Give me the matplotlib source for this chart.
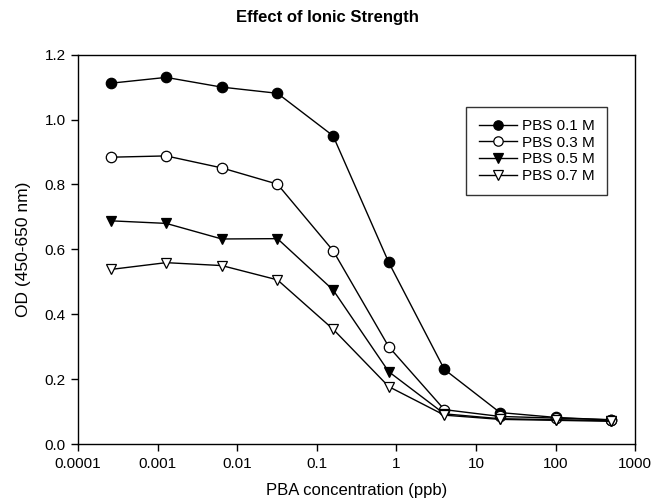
import matplotlib
matplotlib.use('Agg')
import numpy as np
from matplotlib import pyplot as plt
from matplotlib.ticker import FixedLocator, FixedFormatter, NullLocator

plt.rcParams['font.family'] = ['Liberation Sans', 'DejaVu Sans']

# PBA concentration (ppb), 5-fold dilutions
conc = [0.000256, 0.00128, 0.0064, 0.032, 0.16, 0.8, 4, 20, 100, 500]

pbs_01 = [1.112, 1.130, 1.100, 1.081, 0.950, 0.560, 0.230, 0.097, 0.082, 0.074]
pbs_03 = [0.884, 0.888, 0.851, 0.801, 0.596, 0.300, 0.106, 0.085, 0.080, 0.075]
pbs_05 = [0.688, 0.680, 0.632, 0.633, 0.475, 0.223, 0.093, 0.078, 0.075, 0.072]
pbs_07 = [0.538, 0.559, 0.550, 0.506, 0.354, 0.177, 0.089, 0.076, 0.073, 0.070]

labels = ['PBS 0.1 M', 'PBS 0.3 M', 'PBS 0.5 M', 'PBS 0.7 M']

xticks = [0.0001, 0.001, 0.01, 0.1, 1, 10, 100, 1000]
xtick_labels = ['0.0001', '0.001', '0.01', '0.1', '1', '10', '100', '1000']
yticks = [0.0, 0.2, 0.4, 0.6, 0.8, 1.0, 1.2]

fig = plt.figure(figsize=(6.54, 5.04), dpi=100)
ax = fig.add_axes([0.1193, 0.119, 0.852, 0.7725])

styles = [('o', 'black'), ('o', 'white'), ('v', 'black'), ('v', 'white')]
for ys, lab, (m, fc) in zip([pbs_01, pbs_03, pbs_05, pbs_07], labels, styles):
    ax.plot(conc, ys, color='black', lw=1.0, marker=m, markersize=7.5,
            markerfacecolor=fc, markeredgecolor='black', markeredgewidth=0.9,
            label=lab)

ax.set_xscale('log')
ax.set_xlim(0.0001, 1000)
ax.set_ylim(0, 1.2)
ax.xaxis.set_major_locator(FixedLocator(xticks))
ax.xaxis.set_major_formatter(FixedFormatter(xtick_labels))
ax.xaxis.set_minor_locator(NullLocator())
ax.set_yticks(yticks)
ax.set_yticklabels(['%.1f' % v for v in yticks])

ax.tick_params(direction='out', length=5, width=1, labelsize=11, pad=4)
for s in ax.spines.values():
    s.set_linewidth(1.0)

ax.set_xlabel('PBA concentration (ppb)', fontsize=12, labelpad=9)
ax.set_ylabel('OD (450-650 nm)', fontsize=12.5, labelpad=10)
fig.suptitle('Effect of Ionic Strength', fontsize=12, fontweight='bold', y=0.98)

leg = ax.legend(loc='upper left', bbox_to_anchor=(0.697, 0.866), fontsize=11,
                frameon=True, fancybox=False, edgecolor='black',
                handlelength=2.5, handletextpad=0.35, labelspacing=0.17,
                borderpad=0.8, borderaxespad=0, markerscale=0.9)
leg.get_frame().set_linewidth(1.0)

fig.savefig('out.png', dpi=100)
